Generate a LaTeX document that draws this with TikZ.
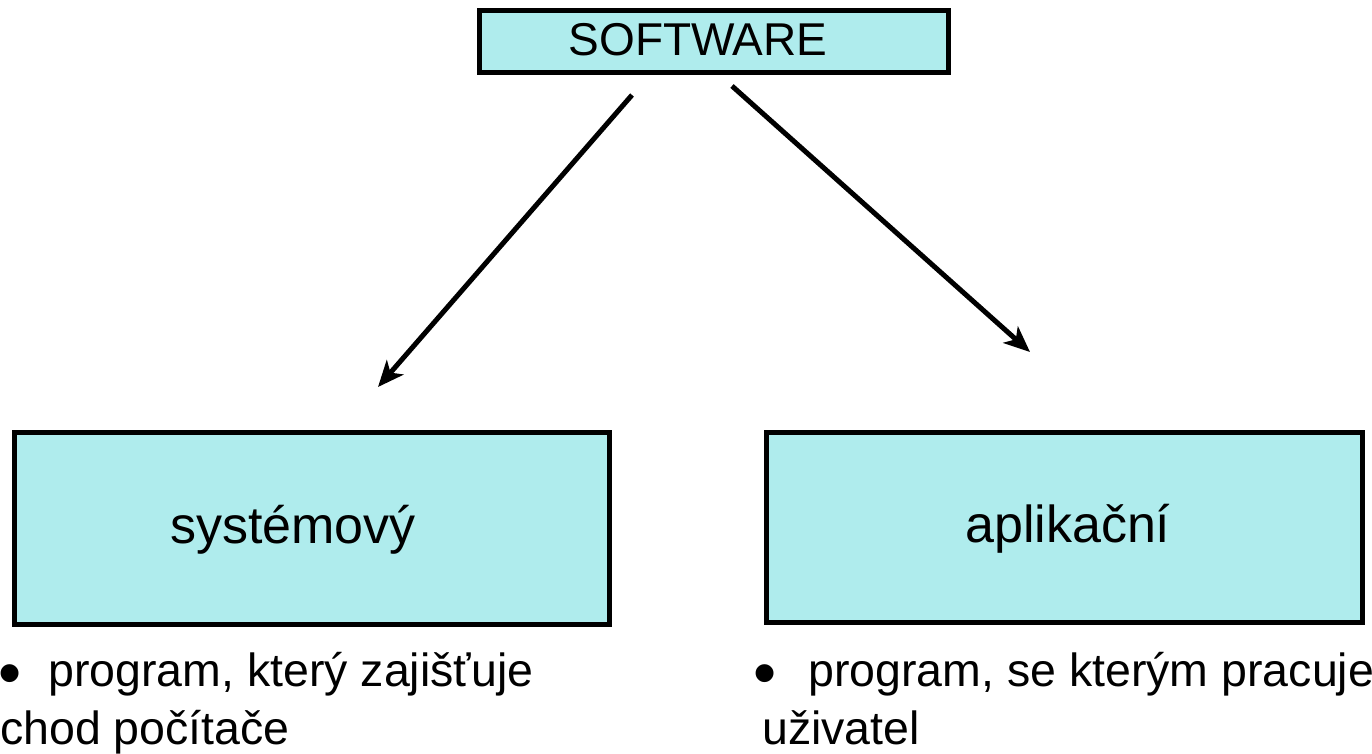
\documentclass[tikz,border=0pt]{standalone}
\usepackage{fontspec}
\setmainfont{Liberation Sans}
\usetikzlibrary{arrows.meta}
\definecolor{boxfill}{RGB}{175,236,237}
\begin{document}
\begin{tikzpicture}[x=1pt,y=-1pt,
  catbox/.style={draw=black,line width=4.5pt,fill=boxfill,inner sep=0pt,anchor=north west},
  conn/.style={line width=5pt,-{Stealth[length=26pt,width=22pt,inset=7pt]}},
  txt/.style={inner sep=0pt,anchor=base west,font=\fontsize{46.5}{55}\selectfont},
  big/.style={inner sep=0pt,anchor=base west,font=\fontsize{52}{62}\selectfont},
  bul/.style={inner sep=0pt,anchor=base west,font=\fontsize{66}{70}\selectfont}]
\useasboundingbox (0,0) rectangle (1372,753);
\node[catbox,minimum width=469pt,minimum height=62pt] (sw) at (477,8) {};
\node[inner sep=0pt,anchor=base,font=\fontsize{46}{55}\selectfont] (swt) at (698,55) {SOFTWARE};
\node[catbox,minimum width=595pt,minimum height=192pt] (sys) at (12,430) {};
\node[big] (syst) at (170,543) {systémový};
\node[catbox,minimum width=596pt,minimum height=190pt] (app) at (764,430) {};
\node[big] (appt) at (965,542) {aplikační};
\coordinate (s1) at (632,95);
\coordinate (e1) at (378,387);
\coordinate (s2) at (732,86);
\coordinate (e2) at (1030,352);
\draw[conn] (s1) -- (e1);
\draw[conn] (s2) -- (e2);
\node[bul] (b1) at (-2,695) {•};
\node[txt] (l1) at (48,686) {program, který zajišťuje};
\node[txt] (l2) at (0,744) {chod počítače};
\node[bul] (b2) at (753,695) {•};
\node[txt] (r1) at (808,686) {program, se kterým pracuje};
\node[txt] (r2) at (762,744) {uživatel};
\end{tikzpicture}
\end{document}
